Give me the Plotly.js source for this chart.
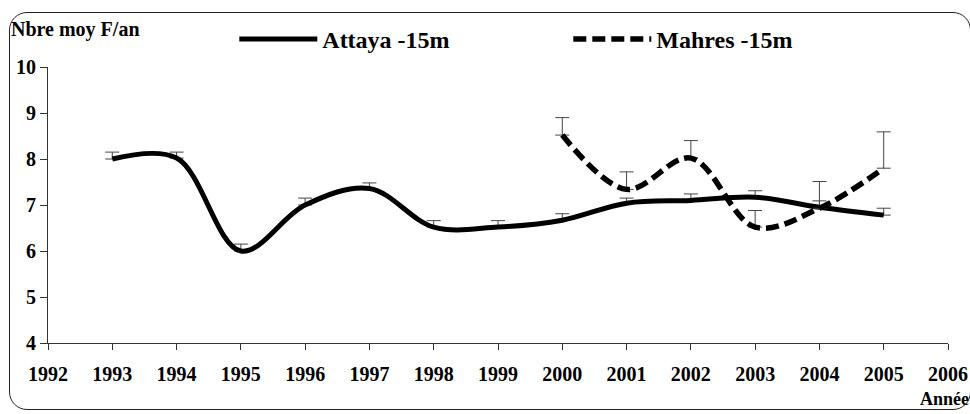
<!DOCTYPE html>
<html>
<head>
<meta charset="utf-8">
<script src="https://cdn.plot.ly/plotly-3.0.1.min.js"></script>
<style>
  html, body { margin: 0; padding: 0; background: #fff; font-family: 'Liberation Serif'; }
  #wrap { position: relative; width: 970px; height: 414px; overflow: hidden; }
  #chart { width: 970px; height: 414px; }
  #frame { position: absolute; left: 9px; top: 12px; width: 962px; height: 398px;
           border: 1.5px solid #222; border-radius: 18px; pointer-events: none; box-sizing: border-box; }
</style>
</head>
<body>
<div id="wrap">
  <div id="chart"></div>
  <div id="frame"></div>
</div>
<script>
// Data
const attayaYears = [1993, 1994, 1995, 1996, 1997, 1998, 1999, 2000, 2001, 2002, 2003, 2004, 2005];
const attayaValues = [8.0, 8.02, 6.0, 7.0, 7.36, 6.52, 6.52, 6.67, 7.04, 7.10, 7.17, 6.95, 6.78];
const attayaErr = [0.15, 0.13, 0.15, 0.15, 0.12, 0.14, 0.14, 0.14, 0.11, 0.14, 0.14, 0.14, 0.15];

const mahresYears = [2000, 2001, 2002, 2003, 2004, 2005];
const mahresValues = [8.52, 7.34, 8.02, 6.52, 6.93, 7.80];
const mahresErr = [0.38, 0.38, 0.38, 0.36, 0.58, 0.79];

const xTicks = [1992, 1993, 1994, 1995, 1996, 1997, 1998, 1999, 2000, 2001, 2002, 2003, 2004, 2005, 2006];
const yTicks = [4, 5, 6, 7, 8, 9, 10];

const FAM = 'Liberation Serif';

function errStyle(arr) {
  return {
    type: 'data', array: arr, arrayminus: arr.map(() => 0), symmetric: false,
    visible: true, color: '#444', thickness: 1, width: 7
  };
}

const traces = [
  {
    x: attayaYears, y: attayaValues, name: 'Attaya -15m', type: 'scatter', mode: 'lines',
    line: { color: '#000', width: 5, shape: 'spline', smoothing: 1 },
    error_y: errStyle(attayaErr)
  },
  {
    x: mahresYears, y: mahresValues, name: 'Mahres -15m', type: 'scatter', mode: 'lines',
    line: { color: '#000', width: 5.5, shape: 'spline', smoothing: 1, dash: '13px,6px' },
    error_y: errStyle(mahresErr)
  }
];

const layout = {
  width: 970, height: 414,
  margin: { l: 48, r: 22, t: 67, b: 71, autoexpand: false },
  paper_bgcolor: '#fff', plot_bgcolor: '#fff',
  font: { family: FAM, color: '#000', size: 20 },
  showlegend: true,
  legend: {
    orientation: 'h', x: 0.207, y: 1.1, xanchor: 'left', yanchor: 'middle',
    font: { family: FAM, size: 24, weight: 'bold', color: '#000' },
    itemwidth: 78, entrywidth: 241, entrywidthmode: 'pixels',
    bgcolor: 'rgba(0,0,0,0)', traceorder: 'normal'
  },
  xaxis: {
    range: [1992, 2006], tickvals: xTicks, ticktext: xTicks.map(String),
    showgrid: false, zeroline: false, showline: true, linecolor: '#333', linewidth: 1,
    ticks: 'outside', ticklen: 6, tickcolor: '#333', tickwidth: 1,
    tickfont: { family: FAM, size: 20, weight: 'bold', color: '#000' },
    ticklabelstandoff: 7
  },
  yaxis: {
    range: [4, 10], tickvals: yTicks, ticktext: yTicks.map(String),
    showgrid: false, zeroline: false, showline: true, linecolor: '#333', linewidth: 1,
    ticks: 'outside', ticklen: 7, tickcolor: '#333', tickwidth: 1,
    tickfont: { family: FAM, size: 20, weight: 'bold', color: '#000' }
  },
  annotations: [
    {
      text: 'Nbre moy F/an', xref: 'paper', yref: 'paper', x: -0.043, y: 1.135,
      xanchor: 'left', yanchor: 'middle', showarrow: false,
      font: { family: FAM, size: 20, weight: 'bold', color: '#000' }
    },
    {
      text: 'Année', xref: 'paper', yref: 'paper', x: 0.967, y: -0.203,
      xanchor: 'left', yanchor: 'middle', showarrow: false,
      font: { family: FAM, size: 18, weight: 'bold', color: '#000' }
    }
  ]
};

Plotly.newPlot('chart', traces, layout, { displayModeBar: false, staticPlot: true });
</script>
</body>
</html>
